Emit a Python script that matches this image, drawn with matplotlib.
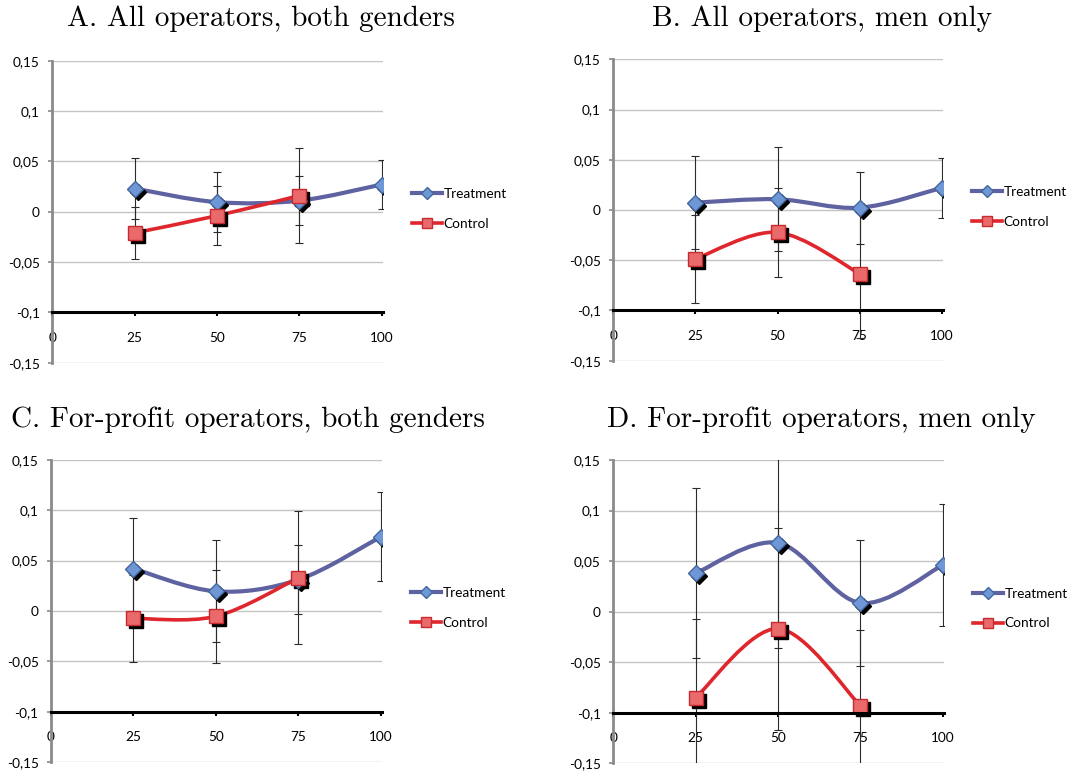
#!/usr/bin/env python3
"""
Four-panel Excel-style chart: treatment vs control effects by percentile.
"""

import numpy as np
import matplotlib
matplotlib.use('Agg')
import matplotlib.pyplot as plt
from matplotlib.path import Path
from matplotlib.patches import PathPatch
from matplotlib.lines import Line2D
from matplotlib import transforms

# --- data -----------------------------------------------------------------
panel_titles = [
    'A. All operators, both genders',
    'B. All operators, men only',
    'C. For-profit operators, both genders',
    'D. For-profit operators, men only',
]

x_treat = [25, 50, 75, 100]
x_ctrl = [25, 50, 75]

treat_a = [0.023, 0.0095, 0.011, 0.027]
treat_a_err = [0.030, 0.0295, 0.024, 0.024]
ctrl_a = [-0.021, -0.004, 0.016]
ctrl_a_err = [0.0255, 0.0295, 0.047]

treat_b = [0.0073, 0.0107, 0.0023, 0.022]
treat_b_err = [0.046, 0.052, 0.036, 0.030]
ctrl_b = [-0.0487, -0.0223, -0.0633]
ctrl_b_err = [0.044, 0.044, 0.064]

treat_c = [0.042, 0.0195, 0.031, 0.0735]
treat_c_err = [0.050, 0.0505, 0.034, 0.044]
ctrl_c = [-0.0073, -0.0053, 0.0328]
ctrl_c_err = [0.043, 0.046, 0.066]

treat_d = [0.038, 0.068, 0.0086, 0.046]
treat_d_err = [0.084, 0.1035, 0.062, 0.060]
ctrl_d = [-0.085, -0.0168, -0.093]
ctrl_d_err = [0.078, 0.100, 0.075]

x_ticks = [0, 25, 50, 75, 100]
y_ticks = [-0.15, -0.1, -0.05, 0, 0.05, 0.1, 0.15]

# --- styling ---------------------------------------------------------------
W, H = 1070, 774
TREAT_LINE = '#5F62A0'
TREAT_FACE = '#6F97D6'
TREAT_EDGE = '#41679F'
CTRL_LINE = '#E0262D'
CTRL_FACE = '#EA6A6C'
CTRL_EDGE = '#C62A2E'
TICK_FONT = ['Lato', 'DejaVu Sans']
TITLE_FONT = ['cmr10', 'DejaVu Serif']

# pixel boxes: (x of 0, x of 100, y top, y bottom)
boxes = [
    (52.3, 381.7, 60.7, 362.7),
    (613.3, 941.7, 59.3, 360.7),
    (51.0, 380.7, 459.7, 762.3),
    (613.3, 942.7, 460.0, 763.3),
]
title_pos = [(261, 19), (822, 19), (248, 420), (821, 420)]


def smooth_path(xs, ys):
    """Excel-like smoothed line (Catmull-Rom as cubic Bezier)."""
    pts = np.column_stack([xs, ys]).astype(float)
    n = len(pts)
    verts = [pts[0]]
    codes = [Path.MOVETO]
    for i in range(n - 1):
        p0 = pts[max(i - 1, 0)]
        p1 = pts[i]
        p2 = pts[i + 1]
        p3 = pts[min(i + 2, n - 1)]
        verts += [p1 + (p2 - p0) / 6, p2 - (p3 - p1) / 6, p2]
        codes += [Path.CURVE4] * 3
    return Path(verts, codes)


def fmt_tick(v):
    s = f'{v:g}'
    return s.replace('.', ',')


def draw_series(ax, fig, xs, ys, errs, line_color, face, edge, marker, ms, lw):
    ax.errorbar(xs, ys, yerr=errs, fmt='none', ecolor='#2a2a2a',
                elinewidth=0.8, capsize=3, capthick=0.8, zorder=2)
    ax.add_patch(PathPatch(smooth_path(xs, ys), facecolor='none',
                           edgecolor=line_color, lw=lw, zorder=3,
                           capstyle='round', joinstyle='round'))
    shadow = transforms.offset_copy(ax.transData, fig=fig, x=3, y=-3, units='dots')
    ax.plot(xs, ys, ls='none', marker=marker, ms=ms, color='black',
            mec='black', transform=shadow, zorder=3.5)
    ax.plot(xs, ys, ls='none', marker=marker, ms=ms, mfc=face, mec=edge,
            mew=1.0, zorder=4)


fig = plt.figure(figsize=(W / 100, H / 100), dpi=100)

series = [
    (treat_a, treat_a_err, ctrl_a, ctrl_a_err),
    (treat_b, treat_b_err, ctrl_b, ctrl_b_err),
    (treat_c, treat_c_err, ctrl_c, ctrl_c_err),
    (treat_d, treat_d_err, ctrl_d, ctrl_d_err),
]

for (x0, x100, top, bot), title, (tx, ty), (ty_, te_, cy_, ce_) in zip(
        boxes, panel_titles, title_pos, series):
    xmax = 100.3
    right = x0 + (x100 - x0) * xmax / 100
    ax = fig.add_axes([x0 / W, 1 - bot / H, (right - x0) / W, (bot - top) / H])
    ax.set_xlim(0, xmax)
    ax.set_ylim(-0.15, 0.15)

    for side in ('top', 'right'):
        ax.spines[side].set_visible(False)
    ax.spines['left'].set_color('#8a8a8a')
    ax.spines['left'].set_linewidth(2)
    ax.spines['bottom'].set_position(('data', -0.1))
    ax.spines['bottom'].set_color('black')
    ax.spines['bottom'].set_linewidth(2.2)
    ax.spines['bottom'].set_zorder(5)

    ax.set_yticks(y_ticks)
    ax.set_yticklabels([fmt_tick(v) for v in y_ticks], family=TICK_FONT,
                       fontsize=9.8)
    ax.set_xticks(x_ticks)
    ax.set_xticklabels([str(v) for v in x_ticks], family=TICK_FONT,
                       fontsize=9.8)
    ax.tick_params(axis='y', length=3, width=1.2, color='#8a8a8a', pad=6)
    ax.tick_params(axis='x', length=3, width=1.5, color='black', pad=11)
    ax.yaxis.grid(True, color='#c4c4c4', lw=1)
    ax.set_axisbelow(True)

    draw_series(ax, fig, x_treat, ty_, te_, TREAT_LINE, TREAT_FACE,
                TREAT_EDGE, 'D', 8.5, 3.0)
    draw_series(ax, fig, x_ctrl, cy_, ce_, CTRL_LINE, CTRL_FACE,
                CTRL_EDGE, 's', 10.5, 2.6)

    handles = [
        Line2D([], [], color=TREAT_LINE, lw=3.0, marker='D', ms=6,
               mfc=TREAT_FACE, mec=TREAT_EDGE),
        Line2D([], [], color=CTRL_LINE, lw=2.6, marker='s', ms=7,
               mfc=CTRL_FACE, mec=CTRL_EDGE),
    ]
    ax.legend(handles, ['Treatment', 'Control'], loc='center left',
              bbox_to_anchor=(1.088, 0.51), frameon=False, borderpad=0,
              borderaxespad=0, handlelength=2.2, handletextpad=0.15,
              labelspacing=1.3, prop={'family': TICK_FONT, 'size': 9.8})

    fig.text(tx / W, 1 - ty / H, title, ha='center', va='center',
             family=TITLE_FONT, fontsize=21)

fig.savefig('out.png', dpi=100, facecolor='white')
